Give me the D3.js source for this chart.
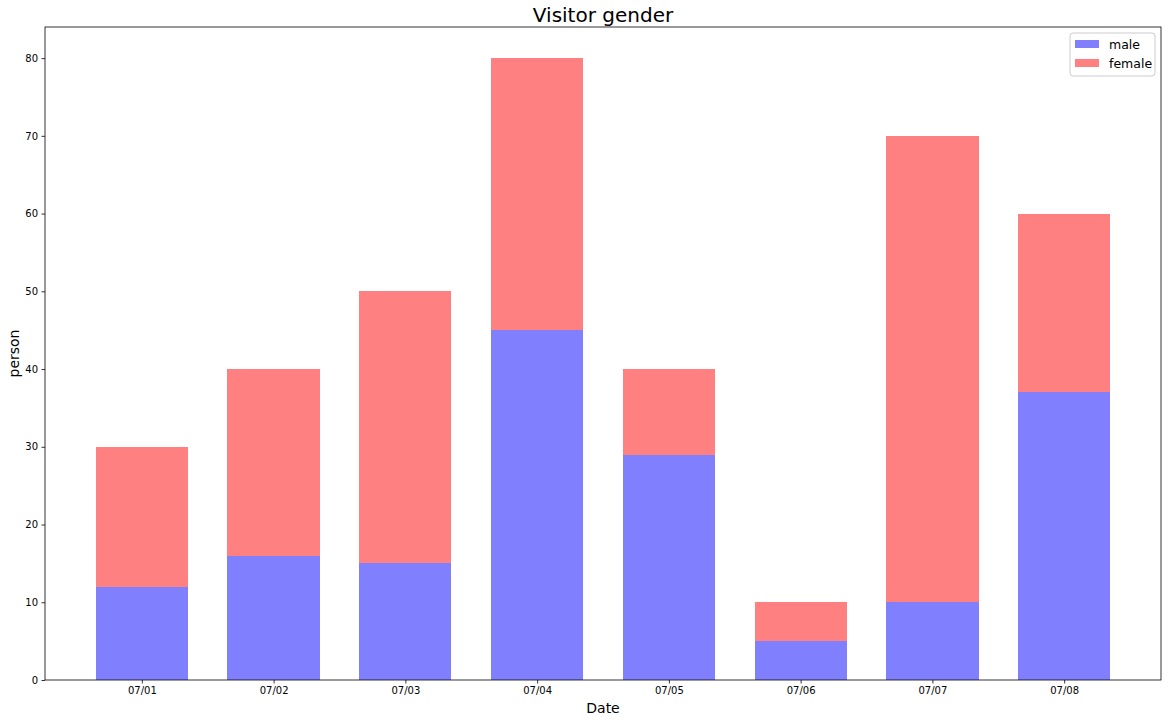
<!DOCTYPE html>
<html>
<head>
<meta charset="utf-8">
<script src="https://cdn.jsdelivr.net/npm/d3@7"></script>
<style>
  body { margin: 0; background: #fff; }
  svg { font-family: 'DejaVu Sans', sans-serif; }
</style>
</head>
<body>
<div id="chart"></div>
<script>
const dates = ['07/01', '07/02', '07/03', '07/04', '07/05', '07/06', '07/07', '07/08']
const male = [12, 16, 15, 45, 29, 5, 10, 37]
const female = [18, 24, 35, 35, 11, 5, 60, 23]
const yTicks = [0, 10, 20, 30, 40, 50, 60, 70, 80]

const width = 1168
const height = 722
const margin = { top: 27, right: 7, bottom: 42, left: 45 }
const barWidth = 0.7

const svg = d3.select('#chart')
  .append('svg')
  .attr('width', width)
  .attr('height', height)

// matplotlib style 5% margins around the bars
const x = d3.scaleLinear()
  .domain([-0.735, dates.length - 1 + 0.735])
  .range([margin.left, width - margin.right])

const y = d3.scaleLinear()
  .domain([0, 84])
  .range([height - margin.bottom, margin.top])

const rows = dates.map((d, i) => ({ i: i, date: d, male: male[i], female: female[i] }))

// Male bars (bottom)
svg.append('g')
  .selectAll('rect')
  .data(rows)
  .enter()
  .append('rect')
  .attr('x', d => x(d.i - barWidth / 2))
  .attr('width', d => x(d.i + barWidth / 2) - x(d.i - barWidth / 2))
  .attr('y', d => y(d.male))
  .attr('height', d => y(0) - y(d.male))
  .attr('shape-rendering', 'crispEdges')
  .style('fill', '#8080ff')

// Female bars stacked on top
svg.append('g')
  .selectAll('rect')
  .data(rows)
  .enter()
  .append('rect')
  .attr('x', d => x(d.i - barWidth / 2))
  .attr('width', d => x(d.i + barWidth / 2) - x(d.i - barWidth / 2))
  .attr('y', d => y(d.male + d.female))
  .attr('height', d => y(d.male) - y(d.male + d.female))
  .attr('shape-rendering', 'crispEdges')
  .style('fill', '#ff8080')

// Axes
const xAxis = svg.append('g')
  .attr('transform', `translate(0,${height - margin.bottom})`)
  .call(d3.axisBottom(x)
    .tickValues(d3.range(dates.length))
    .tickFormat(i => dates[i])
    .tickSize(3.5)
    .tickPadding(3.5))

const yAxis = svg.append('g')
  .attr('transform', `translate(${margin.left},0)`)
  .call(d3.axisLeft(y)
    .tickValues(yTicks)
    .tickSize(3.5)
    .tickPadding(3.5))

;[xAxis, yAxis].forEach(a => {
  a.select('.domain').remove()
  a.selectAll('text').attr('font-size', 10).attr('font-family', 'DejaVu Sans, sans-serif').attr('fill', '#000')
  a.selectAll('line').attr('stroke', '#000').attr('stroke-width', 0.8)
})

// Frame
svg.append('rect')
  .attr('x', margin.left)
  .attr('y', margin.top)
  .attr('width', width - margin.left - margin.right)
  .attr('height', height - margin.top - margin.bottom)
  .style('fill', 'none')
  .style('stroke', '#000')
  .style('stroke-width', 0.8)

// Title and axis labels
svg.append('text')
  .attr('x', (margin.left + width - margin.right) / 2)
  .attr('y', 22)
  .attr('text-anchor', 'middle')
  .attr('font-size', 20)
  .text('Visitor gender')

svg.append('text')
  .attr('x', (margin.left + width - margin.right) / 2)
  .attr('y', 713)
  .attr('text-anchor', 'middle')
  .attr('font-size', 14)
  .text('Date')

svg.append('text')
  .attr('transform', `translate(19,${(margin.top + height - margin.bottom) / 2}) rotate(-90)`)
  .attr('text-anchor', 'middle')
  .attr('font-size', 14)
  .text('person')

// Legend
const legendItems = [{ label: 'male', color: '#8080ff' }, { label: 'female', color: '#ff8080' }]
const legend = svg.append('g').attr('transform', 'translate(1070,33)')
legend.append('rect')
  .attr('width', 85)
  .attr('height', 43)
  .attr('rx', 3)
  .style('fill', '#fff')
  .style('stroke', '#ccc')
  .style('stroke-width', 1)
legend.selectAll('g.item')
  .data(legendItems)
  .enter()
  .append('g')
  .attr('class', 'item')
  .attr('transform', (d, i) => `translate(5,${7 + i * 19})`)
  .each(function (d) {
    const g = d3.select(this)
    g.append('rect').attr('width', 24).attr('height', 8).style('fill', d.color)
    g.append('text').attr('x', 34).attr('y', 8.5).attr('font-size', 12.5).text(d.label)
  })
</script>
</body>
</html>
